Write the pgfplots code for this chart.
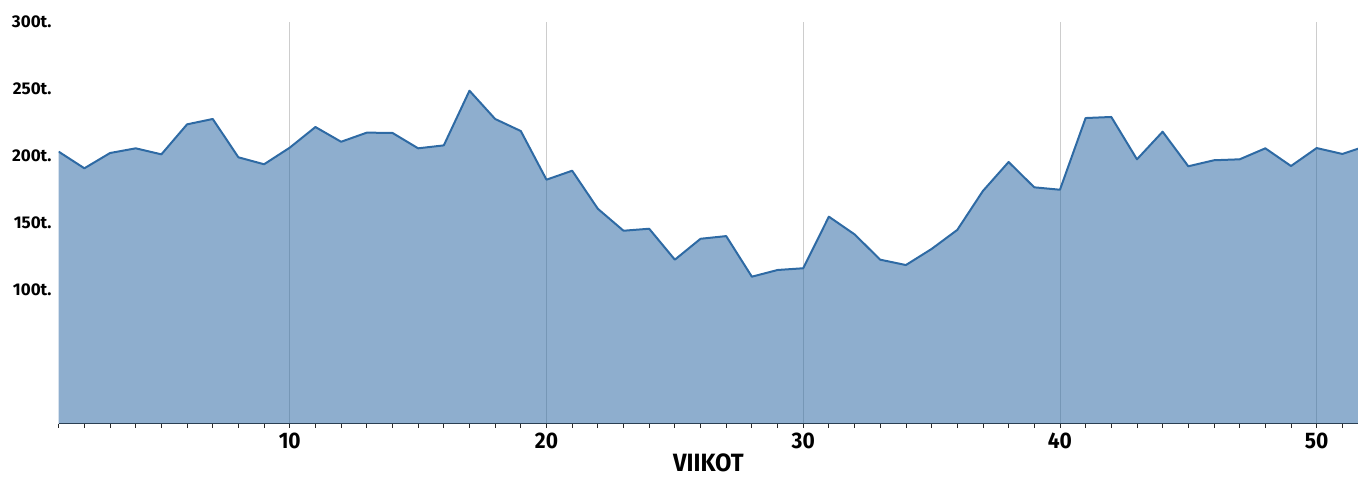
\documentclass[border=0pt]{standalone}
\usepackage{fontspec}
\setmainfont{Fira Sans}
\usepackage{pgfplots}
\pgfplotsset{compat=1.18}
\definecolor{linec}{RGB}{46,106,164}
\definecolor{gridc}{RGB}{205,205,205}
\definecolor{axisc}{RGB}{40,40,40}
\begin{document}
\begin{tikzpicture}
\begin{axis}[
  at={(0,0)}, anchor=south west,
  scale only axis,
  width=1299.3pt, height=402pt,
  xmin=1, xmax=51.61, ymin=0, ymax=300,
  axis x line*=bottom,
  axis y line=none,
  x axis line style={draw=axisc, line width=1.2pt},
  xtick={10,20,30,40,50},
  xticklabels={10,20,30,40,50},
  minor xtick={1,2,...,51},
  tick align=outside,
  major tick length=4pt, minor tick length=4pt,
  x tick style={draw=axisc, line width=0.8pt},
  xmajorgrids,
  major x grid style={draw=gridc, line width=0.9pt},
  xticklabel style={font=\fontsize{22.5}{22.5}\selectfont\bfseries\addfontfeatures{FakeStretch=0.93}, anchor=north, inner sep=0pt, yshift=-5pt},
  xlabel={VIIKOT},
  xlabel style={font=\fontsize{25}{25}\selectfont\bfseries\addfontfeatures{FakeStretch=0.95}, at={(axis description cs:0.5,0)}, anchor=north, inner sep=0pt, yshift=-29.5pt},
  clip=true,
]
\addplot[draw=none, fill=linec, fill opacity=0.54] coordinates {
(1,203) (2,190.6) (3,202) (4,205.5) (5,201) (6,223.4) (7,227.4) (8,198.8) (9,193.6) (10,206)
(11,221.4) (12,210.4) (13,217.2) (14,217) (15,205.5) (16,207.7) (17,248.5) (18,227.4) (19,218.4) (20,182.1)
(21,188.8) (22,160.4) (23,144) (24,145.5) (25,122.4) (26,138) (27,140) (28,109.7) (29,114.7) (30,116)
(31,154.5) (32,141.3) (33,122.4) (34,118.4) (35,130.4) (36,144.6) (37,173.7) (38,195.3) (39,176.4) (40,174.6)
(41,228.1) (42,228.9) (43,197.3) (44,217.9) (45,192.1) (46,196.6) (47,197.3) (48,205.5) (49,192.3) (50,205.7)
(51,201.3) (52,207.7)} \closedcycle;
\addplot[draw=linec, line width=2pt, line join=round] coordinates {
(1,203) (2,190.6) (3,202) (4,205.5) (5,201) (6,223.4) (7,227.4) (8,198.8) (9,193.6) (10,206)
(11,221.4) (12,210.4) (13,217.2) (14,217) (15,205.5) (16,207.7) (17,248.5) (18,227.4) (19,218.4) (20,182.1)
(21,188.8) (22,160.4) (23,144) (24,145.5) (25,122.4) (26,138) (27,140) (28,109.7) (29,114.7) (30,116)
(31,154.5) (32,141.3) (33,122.4) (34,118.4) (35,130.4) (36,144.6) (37,173.7) (38,195.3) (39,176.4) (40,174.6)
(41,228.1) (42,228.9) (43,197.3) (44,217.9) (45,192.1) (46,196.6) (47,197.3) (48,205.5) (49,192.3) (50,205.7)
(51,201.3) (52,207.7)};
\end{axis}
\begin{axis}[
  at={(0,0)}, anchor=south west,
  scale only axis,
  width=1299.3pt, height=402pt,
  xmin=1, xmax=51.61, ymin=0, ymax=300,
  axis x line=none,
  axis y line*=left,
  y axis line style={draw=none},
  ytick={100,150,200,250,300},
  yticklabels={100t.,150t.,200t.,250t.,300t.},
  major tick length=0pt,
  yticklabel style={font=\fontsize{17}{17}\selectfont\bfseries, anchor=east, inner sep=0pt, xshift=-7pt},
]
\end{axis}
\pgfresetboundingbox
\path[use as bounding box] (-58.7pt,-53.3pt) rectangle (1299.3pt,423.7pt);
\end{tikzpicture}
\end{document}
